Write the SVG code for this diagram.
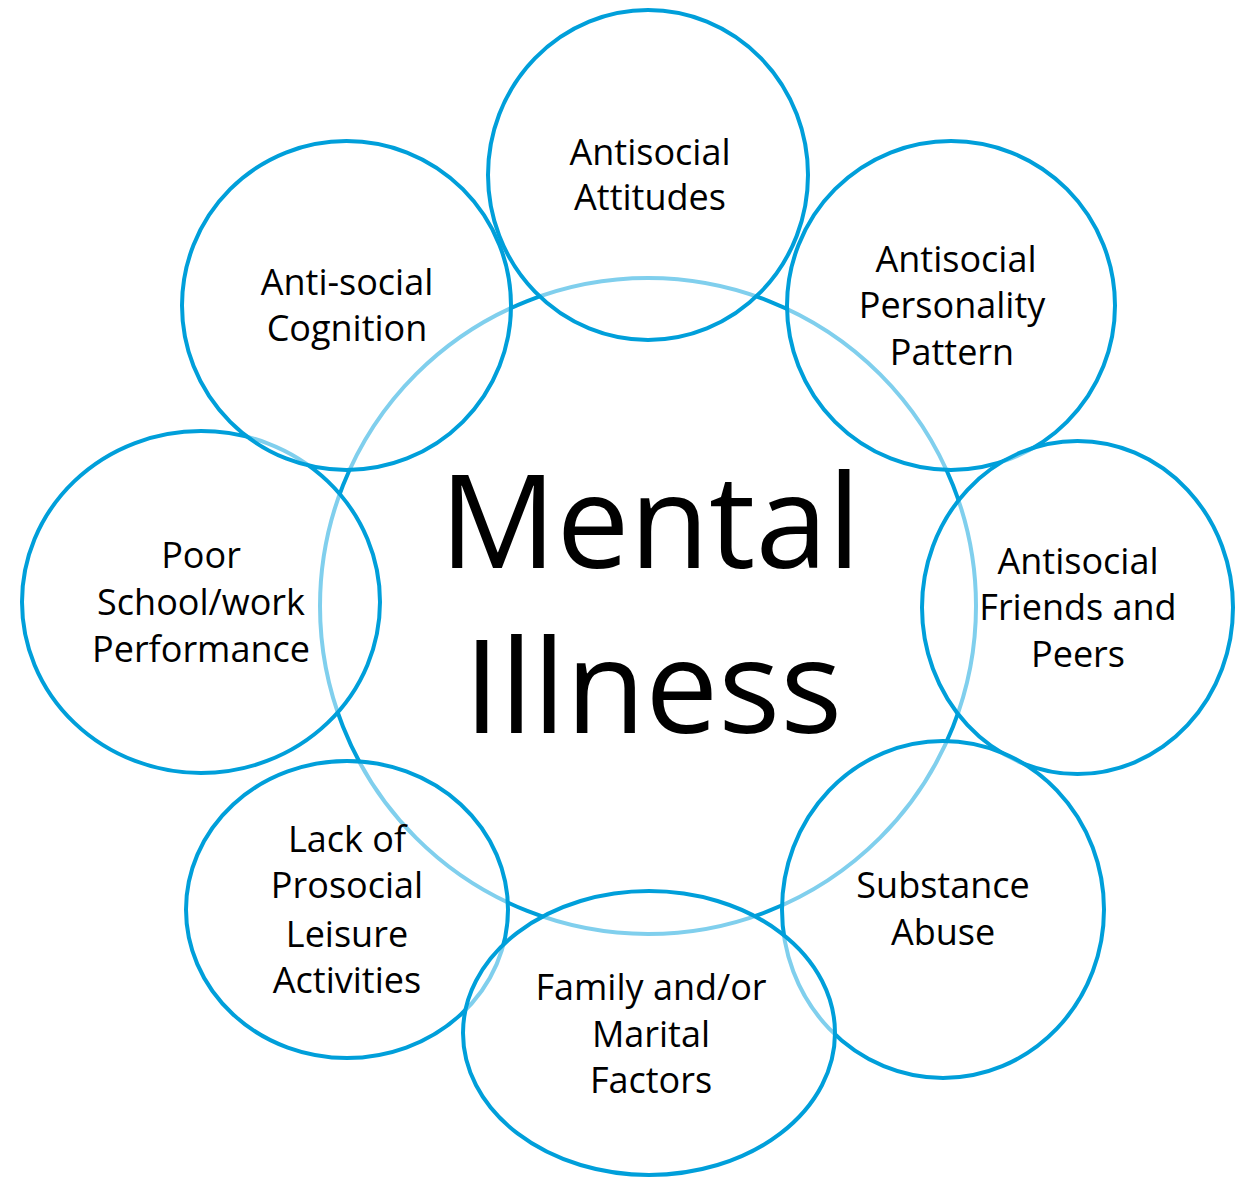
<svg xmlns="http://www.w3.org/2000/svg" width="1246" height="1177" viewBox="0 0 1246 1177">
<style>
  .ring { fill: #ffffff; fill-opacity: 0.5; stroke: #009fda; stroke-width: 4; }
  .core { fill: none; stroke: #009fda; stroke-width: 4; }
  .lbl { font-family: "Open Sans", "Noto Sans", "DejaVu Sans", sans-serif; font-size: 36px; fill: #000000; text-anchor: middle; }
  .big { font-family: "Open Sans", "Noto Sans", "DejaVu Sans", sans-serif; font-size: 130px; fill: #000000; text-anchor: middle; }
</style>
<rect width="1246" height="1177" fill="#ffffff"/>
<g id="mental-illness">
  <circle class="core" cx="648" cy="606" r="328"/>
  <text class="big" x="650" y="568">Mental</text>
  <text class="big" x="653" y="733">Illness</text>
</g>
<g id="poor-school-work-performance">
  <ellipse class="ring" cx="201" cy="602" rx="179" ry="171"/>
  <text class="lbl" x="201" y="568">Poor</text>
  <text class="lbl" x="201" y="615">School/work</text>
  <text class="lbl" x="201" y="662">Performance</text>
</g>
<g id="anti-social-cognition">
  <ellipse class="ring" cx="346.5" cy="305.5" rx="164.5" ry="164.5"/>
  <text class="lbl" x="347" y="295">Anti-social</text>
  <text class="lbl" x="347" y="341">Cognition</text>
</g>
<g id="antisocial-attitudes">
  <ellipse class="ring" cx="648" cy="175" rx="160" ry="165"/>
  <text class="lbl" x="650" y="165">Antisocial</text>
  <text class="lbl" x="650" y="210">Attitudes</text>
</g>
<g id="antisocial-personality-pattern">
  <ellipse class="ring" cx="951" cy="305.5" rx="164" ry="164.5"/>
  <text class="lbl" x="956" y="272">Antisocial</text>
  <text class="lbl" x="952" y="318">Personality</text>
  <text class="lbl" x="952" y="365">Pattern</text>
</g>
<g id="antisocial-friends-and-peers">
  <ellipse class="ring" cx="1077.5" cy="607.5" rx="155.5" ry="166.5"/>
  <text class="lbl" x="1078" y="574">Antisocial</text>
  <text class="lbl" x="1078" y="620">Friends and</text>
  <text class="lbl" x="1078" y="667">Peers</text>
</g>
<g id="substance-abuse">
  <ellipse class="ring" cx="943" cy="909.5" rx="161" ry="168.5"/>
  <text class="lbl" x="943" y="898">Substance</text>
  <text class="lbl" x="943" y="945">Abuse</text>
</g>
<g id="lack-of-prosocial-leisure-activities">
  <ellipse class="ring" cx="347" cy="909.5" rx="161" ry="148.5"/>
  <text class="lbl" x="347" y="852">Lack of</text>
  <text class="lbl" x="347" y="898">Prosocial</text>
  <text class="lbl" x="347" y="947">Leisure</text>
  <text class="lbl" x="347" y="993">Activities</text>
</g>
<g id="family-and-or-marital-factors">
  <ellipse class="ring" cx="649" cy="1033" rx="186" ry="142"/>
  <text class="lbl" x="651" y="1000">Family and/or</text>
  <text class="lbl" x="651" y="1047">Marital</text>
  <text class="lbl" x="651" y="1093">Factors</text>
</g>
</svg>
